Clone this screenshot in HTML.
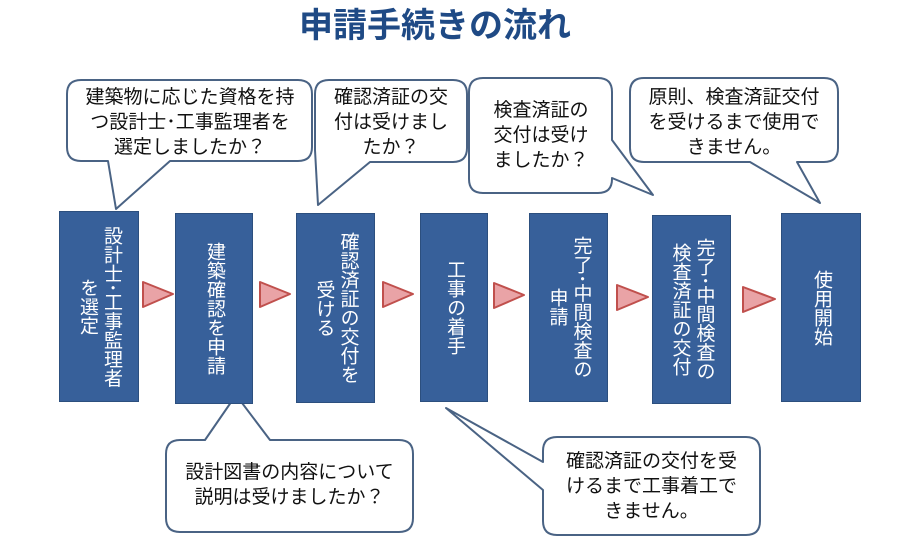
<!DOCTYPE html>
<html><head><meta charset="utf-8"><style>
body{margin:0;width:903px;height:545px;background:#fff;position:relative;overflow:hidden;font-family:"Liberation Sans","Noto Sans CJK JP",sans-serif;}
.t{position:absolute;color:#1f4a85;font-weight:bold;font-size:34px;left:270px;top:-2px;width:330px;text-align:center;letter-spacing:0px;}
.b{position:absolute;background:#37609a;border:1px solid #2c4f7e;box-sizing:border-box;color:#fff;font-size:19px;display:flex;align-items:center;justify-content:center;}
.v{writing-mode:vertical-rl;text-align:center;line-height:24px;letter-spacing:0px;}
.c{position:absolute;font-size:19px;color:#111;text-align:center;line-height:25px;}
svg{position:absolute;left:0;top:0;}
</style></head><body>
<div class="t">申請手続きの流れ</div>
<svg width="903" height="545">
<g fill="#fff" stroke="#4a6384" stroke-width="2" stroke-linejoin="round">
<path d="M81,80 H298 Q312,80 312,94 V147 Q312,161 298,161 H170 L116,209 L108,161 H81 Q67,161 67,147 V94 Q67,80 81,80 Z"/>
<path d="M329,80 H453 Q467,80 467,94 V148 Q467,162 453,162 H370 L318,205 L315,150 V94 Q315,80 329,80 Z"/>
<path d="M483,78 H598 Q612,78 612,92 V140 L653,195 L612,178 V179 Q612,193 598,193 H483 Q469,193 469,179 V92 Q469,78 483,78 Z"/>
<path d="M644,78 H824 Q838,78 838,92 V148 Q838,162 824,162 H797 L820,203 L750,162 H644 Q630,162 630,148 V92 Q630,78 644,78 Z"/>
<path d="M180,440 H205 L236,395 L270,440 H399 Q413,440 413,454 V518 Q413,532 399,532 H180 Q166,532 166,518 V454 Q166,440 180,440 Z"/>
<path d="M557,437 H746 Q760,437 760,451 V521 Q760,535 746,535 H557 Q543,535 543,521 V490 L446,408 L543,462 V451 Q543,437 557,437 Z"/>
</g>
<g fill="#e9a3a6" stroke="#c0504d" stroke-width="2" stroke-linejoin="round">
<polygon points="143,282 173,294 143,307"/>
<polygon points="260,282 290,294 260,307"/>
<polygon points="383,282 413,294 383,307"/>
<polygon points="494,283 524,295 494,308"/>
<polygon points="617,285 648,297 617,310"/>
<polygon points="743,287 775,299 743,312"/>
</g>
</svg>
<div class="b" style="left:59px;top:211px;width:80px;height:191px"><div class="v">設計士･工事監理者<br>を選定</div></div>
<div class="b" style="left:175px;top:213px;width:78px;height:191px"><div class="v">建築確認を申請</div></div>
<div class="b" style="left:296px;top:213px;width:79px;height:190px"><div class="v">確認済証の交付を<br>受ける</div></div>
<div class="b" style="left:420px;top:213px;width:68px;height:189px"><div class="v">工事の着手</div></div>
<div class="b" style="left:529px;top:213px;width:79px;height:189px"><div class="v">完了･中間検査の<br>申請</div></div>
<div class="b" style="left:652px;top:215px;width:79px;height:189px"><div class="v">完了･中間検査の<br>検査済証の交付</div></div>
<div class="b" style="left:781px;top:213px;width:80px;height:189px"><div class="v">使用開始</div></div>
<div class="c" style="left:68px;top:85px;width:244px">建築物に応じた資格を持<br>つ設計士･工事監理者を<br>選定しましたか？</div>
<div class="c" style="left:316px;top:85px;width:150px">確認済証の交<br>付は受けまし<br>たか？</div>
<div class="c" style="left:470px;top:98px;width:142px">検査済証の<br>交付は受け<br>ましたか？</div>
<div class="c" style="left:631px;top:85px;width:206px">原則、検査済証交付<br>を受けるまで使用で<br>きません。</div>
<div class="c" style="left:167px;top:460px;width:245px">設計図書の内容について<br>説明は受けましたか？</div>
<div class="c" style="left:544px;top:449px;width:215px">確認済証の交付を受<br>けるまで工事着工で<br>きません。</div>
</body></html>
